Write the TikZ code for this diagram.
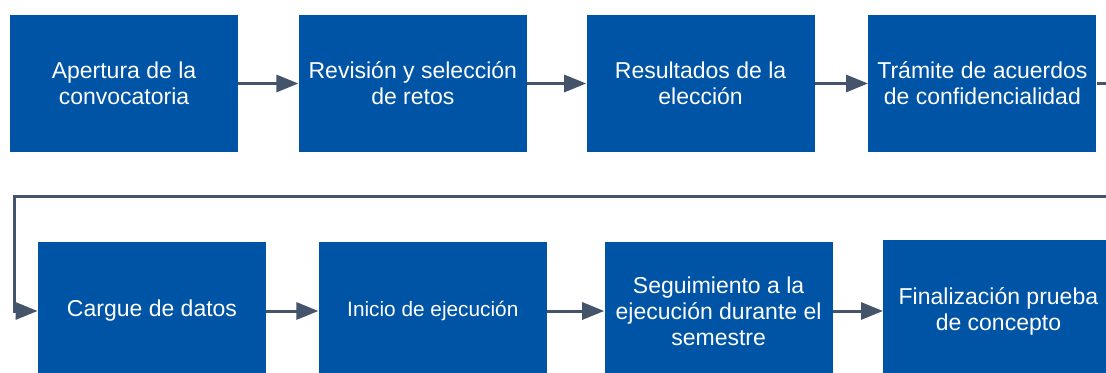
\documentclass[tikz,border=0pt]{standalone}
\usepackage{fontspec}
\setmainfont{Liberation Sans}
\usepackage{xcolor}
\usepackage{tikz}
\usetikzlibrary{positioning, arrows.meta}
\definecolor{boxblue}{RGB}{0,84,166}
\definecolor{linegray}{RGB}{68,84,106}
\tikzstyle{stepbox} = [rectangle, minimum width=114pt, minimum height=68.5pt, inner sep=0pt, align=center, text=white, fill=boxblue, font=\fontsize{11.5}{13}\selectfont]
\tikzstyle{arrow} = [line width=1.5pt, draw=linegray, -{Triangle[length=11pt,width=8.5pt]}]

\begin{document}
\begin{tikzpicture}[x=0.5pt, y=-0.5pt]
	\useasboundingbox (0,0) rectangle (1106,373);
	
	\node (p1) [stepbox] at (124,83.5) {Apertura de la\\convocatoria};
	\node (p2) [stepbox, right=30pt of p1] {Revisión y selección\\de retos};
	\node (p3) [stepbox, right=29.5pt of p2] {Resultados de la\\elección};
	\node (p4) [stepbox, right=26.5pt of p3] {Trámite de acuerdos\\de confidencialidad};
	
	\draw [arrow] (p1) -- (p2);
	\draw [arrow] (p2) -- (p3);
	\draw [arrow] (p3) -- (p4);
	
	\node (p5) [stepbox] at (152,311) {Cargue de datos};
	\node (p6) [stepbox, right=26pt of p5, font=\fontsize{10.4}{12}\selectfont] {Inicio de ejecución};
	\node (p7) [stepbox, right=28.5pt of p6] {Seguimiento a la\\ejecución durante el\\semestre};
	\node (p8) [stepbox, right=25pt of p7, minimum width=115pt, minimum height=70.5pt] {Finalización prueba\\de concepto};
	
	% salto de la primera fila a la segunda
	\coordinate (bend) at (14.5,196.5);
	\draw [arrow] (p4.east) -- ++(12pt,0) |- (bend) |- (p5.west);
	
	\draw [arrow] (p5) -- (p6);
	\draw [arrow] (p6) -- (p7);
	\draw [arrow] (p7) -- (p8);
	
\end{tikzpicture}
\end{document}
